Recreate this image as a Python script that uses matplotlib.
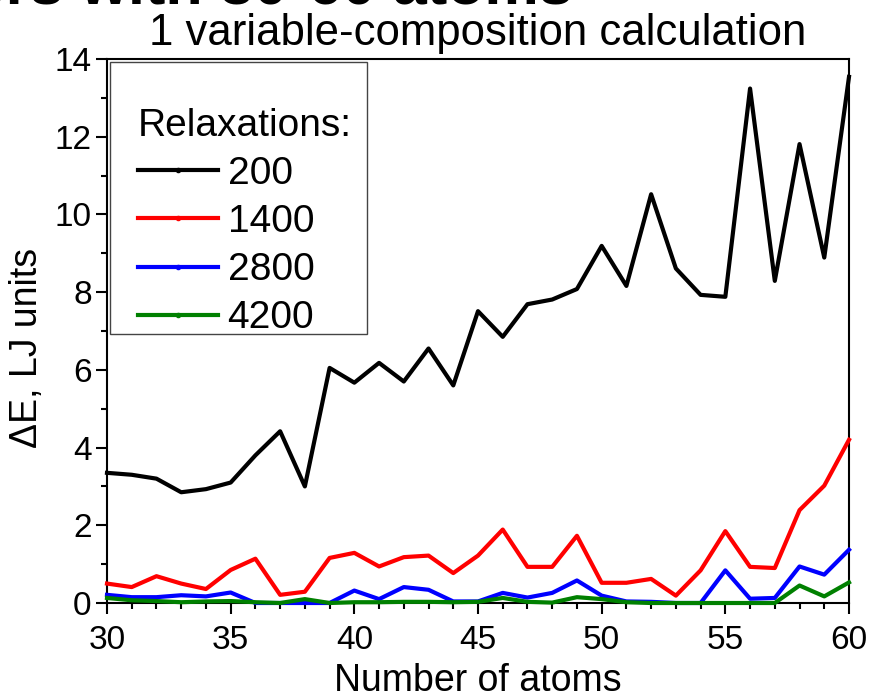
import matplotlib
matplotlib.use("Agg")
import matplotlib.pyplot as plt
from matplotlib.ticker import MultipleLocator
from matplotlib.lines import Line2D
from matplotlib.patches import Rectangle

plt.rcParams['font.family'] = ['Liberation Sans', 'DejaVu Sans']

# number of atoms in the cluster
atoms = list(range(30, 61))

# energy difference for each number of relaxations
e_200 = [3.35, 3.30, 3.20, 2.85, 2.93, 3.10, 3.80, 4.42, 3.00, 6.05, 5.67,
         6.18, 5.70, 6.55, 5.60, 7.51, 6.85, 7.69, 7.81, 8.08, 9.19, 8.16,
         10.52, 8.61, 7.93, 7.88, 13.24, 8.29, 11.81, 8.89, 13.54]
e_1400 = [0.50, 0.41, 0.69, 0.50, 0.36, 0.85, 1.14, 0.21, 0.29, 1.16, 1.29,
          0.94, 1.18, 1.22, 0.77, 1.22, 1.89, 0.93, 0.93, 1.73, 0.52, 0.52,
          0.62, 0.19, 0.84, 1.85, 0.93, 0.90, 2.39, 3.02, 4.20]
e_2800 = [0.21, 0.15, 0.15, 0.20, 0.17, 0.27, 0.00, 0.00, 0.00, 0.00, 0.32,
          0.10, 0.41, 0.34, 0.04, 0.04, 0.26, 0.14, 0.26, 0.58, 0.19, 0.04,
          0.03, 0.00, 0.00, 0.84, 0.11, 0.13, 0.94, 0.73, 1.37]
e_4200 = [0.13, 0.07, 0.05, 0.02, 0.04, 0.05, 0.02, 0.00, 0.10, 0.00, 0.02,
          0.02, 0.03, 0.03, 0.02, 0.03, 0.13, 0.03, 0.01, 0.15, 0.10, 0.02,
          0.00, 0.00, 0.00, 0.00, 0.00, 0.00, 0.45, 0.17, 0.53]

series = [("200", e_200, "black"), ("1400", e_1400, "red"),
          ("2800", e_2800, "blue"), ("4200", e_4200, "green")]

fig = plt.figure(figsize=(8.71, 6.98), dpi=100)
ax = fig.add_axes([107/871, 1 - 603/698, (849-107)/871, (603-59)/698])

for lab, vals, col in series:
    ax.plot(atoms, vals, color=col, lw=3, label=lab, clip_on=False, zorder=3)

# legend frame drawn by hand (Origin style box, wider margin at the top)
ax.add_patch(Rectangle((0.004, 0.4945), 0.3464, 0.5, transform=ax.transAxes,
                       facecolor='white', edgecolor='#444444', lw=1.0,
                       zorder=4))

# legend handles with the little dot in the middle
handles = [Line2D([], [], color=c, lw=3, marker='o', markersize=3)
           for _, _, c in series]
leg = ax.legend(handles, [s[0] for s in series], title="Relaxations:",
                loc='upper left', bbox_to_anchor=(0.042, 0.91), numpoints=1,
                fontsize=28, title_fontsize=28, frameon=False,
                handlelength=2.05, handletextpad=0.25, labelspacing=0.31,
                borderpad=0, borderaxespad=0)
leg.set_zorder(5)
leg._legend_box.align = "left"

ax.set_xlim(30, 60)
ax.set_ylim(0, 14)
ax.xaxis.set_major_locator(MultipleLocator(5))
ax.xaxis.set_minor_locator(MultipleLocator(1))
ax.yaxis.set_major_locator(MultipleLocator(2))
ax.yaxis.set_minor_locator(MultipleLocator(1))
ax.tick_params(which='major', direction='out', length=8, width=1.5,
               labelsize=24)
ax.tick_params(which='minor', direction='out', length=4, width=1.5)
ax.tick_params(axis='x', which='major', pad=8)
ax.tick_params(axis='y', which='major', pad=3)
for sp in ax.spines.values():
    sp.set_linewidth(1.5)

ax.set_xlabel("Number of atoms", fontsize=27, labelpad=5)
ax.set_ylabel("ΔE, LJ units", fontsize=27)
ax.yaxis.set_label_coords(-0.084, 0.469)
ax.set_title("1 variable-composition calculation", fontsize=31.5, pad=10)

# bold heading cut off at the top of the image
fig.text(573/871, 1 - 3/698, "Clusters with 30-60 atoms", ha='right',
         va='baseline', fontsize=44, fontweight='bold')

fig.savefig("out.png", dpi=100)
